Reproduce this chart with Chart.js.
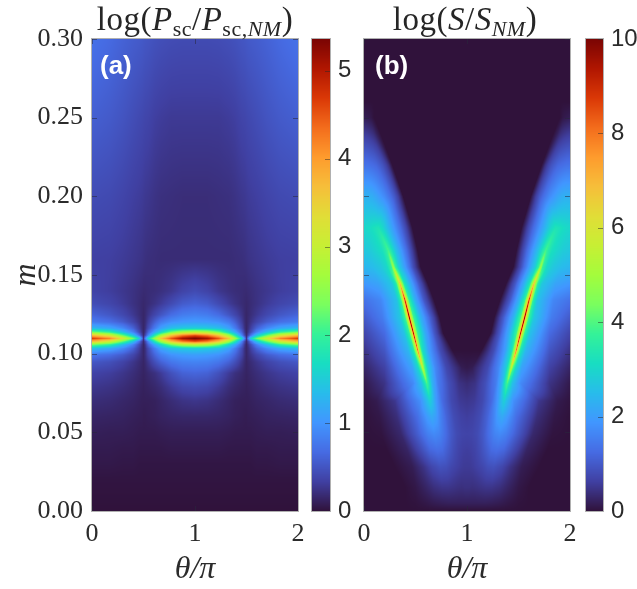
<!DOCTYPE html>
<html>
<head>
<meta charset="utf-8">
<title>log P and log S maps</title>
<script src="https://cdn.jsdelivr.net/npm/chart.js@4"></script>
<style>
  html, body { margin: 0; background: #fff; }
  #page { position: relative; width: 637px; height: 589px; overflow: hidden; }
  canvas { position: absolute; top: 0; }
  .ttl { position: absolute; top: 1px; font: 33px "Liberation Serif", serif; letter-spacing: 0.5px; color: #262626; white-space: nowrap; transform: translateX(-50%); }
  .ttl sub { font-size: 22px; vertical-align: -6px; line-height: 0; }
  .tag { position: absolute; top: 50px; font: bold 26px "Liberation Sans", sans-serif; color: #fff; }
</style>
</head>
<body>
<div id="page">
  <canvas id="heatA" width="305" height="589" style="left:0"></canvas>
  <canvas id="barA" width="58" height="589" style="left:305px"></canvas>
  <canvas id="heatB" width="240" height="589" style="left:340px"></canvas>
  <canvas id="barB" width="57" height="589" style="left:580px"></canvas>
  <div class="ttl" style="left:195px">log(<i>P</i><sub>sc</sub>/<i>P</i><sub>sc,<i>NM</i></sub>)</div>
  <div class="ttl" style="left:465px">log(<i>S</i>/<i>S</i><sub><i>NM</i></sub>)</div>
  <div class="tag" style="left:100px">(a)</div>
  <div class="tag" style="left:375px">(b)</div>
</div>
<script>
// ticks
const mTicks = [0, 0.05, 0.10, 0.15, 0.20, 0.25, 0.30];
const thetaTicks = [0, 1, 2];
const barTicksA = [0, 1, 2, 3, 4, 5];
const barTicksB = [0, 2, 4, 6, 8, 10];
const maxA = 5.36;
const maxB = 10;

// panel (a), values read for theta 0..1, right half is the mirror image
const thetaA = [0, .17, .3, .4, .46, .485, .5, .515, .545, .61, .67, .77, .88, 1];
const mA = [.30, .25, .20, .16, .1397, .1317, .1247, .1202, .1162, .1137, .1117, .1097, .1077, .1057, .1032, .0992, .0947, .0877, .0787, .07, .06, .05, .04, .03, .02, 0];
const valuesA = [
  [.72, .66, .6, .56, .54, .53, .52, .51, .5, .47, .45, .43, .42, .42],
  [.58, .54, .49, .44, .41, .40, .39, .38, .37, .33, .31, .29, .29, .29],
  [.43, .41, .37, .33, .31, .30, .29, .28, .27, .24, .22, .21, .2, .2],
  [.34, .33, .3, .27, .25, .24, .23, .22, .21, .2, .19, .19, .19, .19],
  [.36, .32, .27, .23, .2, .19, .18, .18, .19, .2, .22, .27, .36, .42],
  [.44, .38, .3, .23, .19, .17, .16, .17, .19, .24, .3, .42, .55, .6],
  [.62, .52, .4, .28, .2, .17, .15, .17, .25, .38, .5, .68, .8, .84],
  [.8, .7, .55, .37, .24, .18, .15, .18, .32, .58, .78, .95, 1.02, 1.05],
  [1.3, 1.15, .9, .6, .32, .2, .15, .2, .42, .8, 1.1, 1.35, 1.45, 1.5],
  [2.3, 1.95, 1.35, .85, .42, .24, .15, .24, .6, 1.15, 1.6, 2.3, 2.75, 2.9],
  [3.7, 3.1, 2.2, 1.4, .7, .35, .18, .35, .85, 1.8, 2.6, 3.6, 4.2, 4.5],
  [4.7, 4.2, 3.2, 2.3, 1.5, .8, .25, .8, 1.6, 2.6, 3.6, 4.5, 5.1, 5.36],
  [3.7, 3.1, 2.2, 1.4, .7, .35, .18, .35, .85, 1.8, 2.6, 3.6, 4.2, 4.5],
  [2.3, 1.95, 1.35, .85, .42, .24, .15, .24, .6, 1.15, 1.6, 2.3, 2.75, 2.9],
  [1.3, 1.15, .9, .6, .32, .2, .15, .2, .42, .8, 1.1, 1.35, 1.45, 1.5],
  [.75, .68, .55, .38, .25, .19, .15, .2, .36, .62, .82, .98, 1.05, 1.08],
  [.52, .46, .36, .26, .19, .16, .14, .17, .26, .45, .6, .76, .84, .86],
  [.36, .32, .26, .2, .16, .14, .13, .14, .17, .22, .3, .47, .6, .63],
  [.27, .24, .2, .16, .13, .12, .11, .12, .13, .16, .2, .3, .39, .42],
  [.2, .18, .15, .13, .11, .1, .1, .1, .1, .11, .14, .19, .24, .26],
  [.14, .13, .12, .1, .09, .09, .08, .08, .09, .1, .12, .14, .15, .15],
  [.1, .09, .09, .08, .07, .07, .07, .07, .07, .07, .08, .09, .09, .09],
  [.07, .07, .06, .06, .05, .05, .05, .05, .05, .05, .05, .06, .06, .06],
  [.05, .05, .04, .04, .03, .03, .03, .03, .03, .03, .03, .03, .03, .03],
  [.02, .02, .02, .02, .02, .02, .02, .02, .02, .02, .02, .02, .02, .02],
  [0, 0, 0, 0, 0, 0, 0, 0, 0, 0, 0, 0, 0, 0]
];

// panel (b), the ridge runs diagonally so each row has its own theta knots (index 5 = ridge)
const mB = [.30, .26, .25, .24, .22, .20, .18, .1655, .155, .1445, .134, .123, .113, .102, .091, .081, .07, .06, .049, .039, .028, .015, .005, 0];
const thetaB = [
  [0, .01, .02, .03, .04, .05, .06, .07, .08, .09, .1, 1],
  [0, .01, .02, .03, .04, .05, .06, .07, .08, .09, .1, 1],
  [0, .01, .02, .03, .04, .05, .06, .07, .08, .09, .1, 1],
  [0, .015, .03, .045, .06, .075, .09, .105, .12, .14, .16, 1],
  [0, .03, .06, .09, .12, .15, .18, .21, .24, .26, .275, 1],
  [0, .04, .08, .12, .16, .2, .25, .3, .34, .365, .38, 1],
  [0, .03, .06, .09, .11, .14, .18, .24, .31, .4, .47, 1],
  [0, .07, .13, .18, .21, .237, .265, .31, .38, .46, .52, 1],
  [0, .08, .16, .22, .265, .285, .305, .34, .41, .48, .55, 1],
  [0, .14, .27, .31, .335, .35, .365, .39, .44, .53, .62, 1],
  [0, .16, .318, .358, .383, .398, .413, .438, .49, .58, .68, 1],
  [0, .18, .35, .4, .427, .44, .453, .48, .545, .64, .735, 1],
  [0, .2, .39, .44, .467, .48, .493, .52, .59, .68, .77, 1],
  [0, .2, .43, .482, .508, .522, .536, .565, .63, .74, .86, 1],
  [0, .2, .47, .525, .555, .57, .586, .62, .69, .8, .95, 1],
  [0, .2, .48, .56, .595, .61, .63, .66, .72, .82, .92, 1],
  [0, .12, .3, .55, .62, .64, .66, .7, .76, .85, .93, 1],
  [0, .15, .32, .52, .62, .66, .7, .74, .8, .87, .94, 1],
  [0, .17, .36, .52, .62, .68, .73, .78, .84, .9, .95, 1],
  [0, .22, .42, .55, .64, .71, .76, .81, .87, .92, .96, 1],
  [0, .3, .47, .58, .66, .74, .8, .85, .9, .94, .97, 1],
  [0, .4, .5, .6, .68, .76, .82, .87, .91, .95, .98, 1],
  [0, .4, .5, .6, .68, .76, .82, .87, .91, .95, .98, 1],
  [0, .4, .5, .6, .68, .76, .82, .87, .91, .95, .98, 1]
];
const valuesB = [
  [0, 0, 0, 0, 0, 0, 0, 0, 0, 0, 0, 0],
  [0, 0, 0, 0, 0, 0, 0, 0, 0, 0, 0, 0],
  [.15, .15, .14, .13, .12, .11, .1, .08, .05, .02, 0, 0],
  [.55, .55, .53, .5, .47, .43, .38, .3, .2, .1, 0, 0],
  [1.35, 1.35, 1.3, 1.25, 1.18, 1.05, .9, .68, .42, .15, 0, 0],
  [2.3, 2.3, 2.25, 2.1, 1.9, 1.7, 1.35, .95, .52, .2, 0, 0],
  [3.0, 3.05, 3.1, 3.2, 3.25, 3.3, 3.05, 2.4, 1.7, .8, 0, 0],
  [2.7, 2.8, 3.0, 3.2, 3.5, 3.9, 3.4, 2.6, 1.7, .7, 0, 0],
  [2.4, 2.5, 2.7, 3.0, 3.7, 4.9, 3.8, 2.8, 1.8, .8, 0, 0],
  [1.9, 2.1, 2.7, 3.4, 5.0, 6.8, 5.0, 3.4, 2.4, 1.0, 0, 0],
  [1.35, 1.65, 2.6, 3.6, 5.8, 9.0, 5.8, 3.7, 2.4, 1.0, 0, 0],
  [1.0, 1.5, 2.7, 3.8, 6, 10, 6, 3.9, 2.4, 1.1, 0, 0],
  [.7, 1.25, 2.6, 3.7, 5.8, 9.5, 5.8, 3.8, 2.3, 1.0, 0, 0],
  [.45, .95, 2.4, 3.4, 5.2, 8, 5.2, 3.3, 2.0, .8, 0, 0],
  [.25, .65, 2.1, 3.0, 4.1, 5.4, 4.1, 2.8, 1.7, .75, .15, .1],
  [.1, .45, 1.7, 2.6, 3.4, 3.9, 3.4, 2.4, 1.5, .85, .45, .35],
  [.03, .12, .5, 1.8, 2.6, 2.85, 2.6, 1.95, 1.25, .75, .55, .5],
  [0, .08, .38, 1.3, 2.0, 2.2, 2.0, 1.6, 1.15, .8, .65, .6],
  [0, .03, .3, 1.05, 1.55, 1.7, 1.6, 1.35, 1.0, .78, .7, .68],
  [0, 0, .25, .8, 1.2, 1.3, 1.25, 1.05, .82, .68, .62, .6],
  [0, 0, .15, .45, .72, .88, .84, .72, .64, .58, .55, .55],
  [0, 0, .08, .25, .4, .48, .48, .45, .42, .4, .42, .42],
  [0, 0, .02, .08, .14, .18, .2, .2, .2, .2, .2, .2],
  [0, 0, 0, 0, 0, 0, 0, 0, 0, 0, 0, 0]
];

// turbo colormap stops, every 16 levels of 256
const turboStops = [
  [48, 18, 59], [64, 64, 162], [70, 107, 227], [65, 150, 255], [40, 188, 235], [24, 221, 194],
  [52, 242, 152], [122, 254, 94], [164, 252, 60], [199, 239, 52], [225, 221, 55], [246, 190, 58],
  [254, 155, 45], [243, 108, 28], [218, 56, 6], [176, 22, 1], [122, 4, 3]
];

function turbo(t) {
  t = Math.min(1, Math.max(0, t));
  const p = t * (turboStops.length - 1);
  const i = Math.min(turboStops.length - 2, Math.floor(p));
  const f = p - i;
  return turboStops[i].map((c, k) => c + (turboStops[i + 1][k] - c) * f);
}

// value at (theta, m): knots move between rows, so ridges stay continuous along diagonals
function sampleField(thetaRows, valueRows, mRows, th, m) {
  if (th > 1) th = 2 - th;
  let i = 0;
  while (i < mRows.length - 2 && m < mRows[i + 1]) i++;
  const f = (mRows[i] - m) / (mRows[i] - mRows[i + 1]);
  const t0 = thetaRows[i], t1 = thetaRows[i + 1];
  const v0 = valueRows[i], v1 = valueRows[i + 1];
  let prevT = 0, prevV = v0[0] + (v1[0] - v0[0]) * f;
  for (let k = 1; k < t0.length; k++) {
    const kt = t0[k] + (t1[k] - t0[k]) * f;
    const kv = v0[k] + (v1[k] - v0[k]) * f;
    if (th <= kt) return prevV + (kv - prevV) * (th - prevT) / Math.max(kt - prevT, 1e-6);
    prevT = kt;
    prevV = kv;
  }
  return prevV;
}

function paintArea(chart, valueAt) {
  const { ctx, chartArea: a, scales } = chart;
  const w = Math.round(a.right - a.left), h = Math.round(a.bottom - a.top);
  const img = ctx.createImageData(w, h);
  for (let py = 0; py < h; py++) {
    const yVal = scales.y.getValueForPixel(a.top + py + 0.5);
    for (let px = 0; px < w; px++) {
      const xVal = scales.x.getValueForPixel(a.left + px + 0.5);
      const c = turbo(valueAt(xVal, yVal));
      const o = (py * w + px) * 4;
      img.data[o] = c[0]; img.data[o + 1] = c[1]; img.data[o + 2] = c[2]; img.data[o + 3] = 255;
    }
  }
  ctx.putImageData(img, Math.round(a.left), Math.round(a.top));
}

function frame(chart) {
  const { ctx, chartArea: a } = chart;
  ctx.strokeStyle = '#b0b0b0';
  ctx.lineWidth = 1;
  ctx.strokeRect(a.left - 0.5, a.top - 0.5, a.right - a.left + 1, a.bottom - a.top + 1);
}

function tickMark(ctx, x0, y0, x1, y1) {
  ctx.beginPath();
  ctx.moveTo(x0, y0);
  ctx.lineTo(x1, y1);
  ctx.stroke();
}

// inward ticks on all four sides, like the box of the original
const boxTicks = {
  id: 'boxTicks',
  afterDraw(chart) {
    const { ctx, chartArea: a, scales } = chart;
    ctx.save();
    ctx.strokeStyle = 'rgba(40,40,60,0.55)';
    ctx.lineWidth = 1;
    scales.y.ticks.forEach(t => {
      const py = Math.round(scales.y.getPixelForValue(t.value)) + 0.5;
      tickMark(ctx, a.left, py, a.left + 5, py);
      tickMark(ctx, a.right, py, a.right - 5, py);
    });
    scales.x.ticks.forEach(t => {
      const px = Math.round(scales.x.getPixelForValue(t.value)) + 0.5;
      tickMark(ctx, px, a.top, px, a.top + 5);
      tickMark(ctx, px, a.bottom, px, a.bottom - 5);
    });
    frame(chart);
    ctx.restore();
  }
};

function makeHeat(id, thetaRows, valueRows, mRows, maxVal, leftW, rightPad, showM) {
  const nodes = [];
  mRows.forEach((m, r) => thetaRows[r].forEach((th, k) => nodes.push({ x: th, y: m, v: valueRows[r][k] })));
  new Chart(document.getElementById(id), {
    type: 'scatter',
    data: { datasets: [{ data: nodes, pointRadius: 0 }] },
    options: {
      responsive: false,
      animation: false,
      layout: { padding: { top: 39, right: rightPad } },
      plugins: { legend: { display: false }, tooltip: { enabled: false } },
      scales: {
        x: {
          type: 'linear', min: 0, max: 2,
          afterBuildTicks: s => { s.ticks = thetaTicks.map(v => ({ value: v })); },
          afterFit: s => { s.height = 78; },
          grid: { display: false },
          border: { display: false },
          ticks: { padding: 0, color: '#2b2b2b', maxRotation: 0, font: { family: 'Liberation Serif', size: 26 } },
          title: { display: true, text: 'θ/π', color: '#2b2b2b', padding: { top: 0, bottom: 0 }, font: { family: 'Liberation Serif', size: 32, style: 'italic', weight: 'normal' } }
        },
        y: {
          type: 'linear', min: 0, max: 0.3,
          afterBuildTicks: s => { s.ticks = mTicks.map(v => ({ value: v })); },
          afterFit: s => { s.width = leftW; },
          grid: { display: false },
          border: { display: false },
          ticks: { display: showM, padding: 1, color: '#2b2b2b', callback: v => v.toFixed(2), font: { family: 'Liberation Serif', size: 26 } },
          title: { display: showM, text: 'm', color: '#2b2b2b', padding: { top: 7, bottom: 0 }, font: { family: 'Liberation Serif', size: 32, style: 'italic', weight: 'normal' } }
        }
      }
    },
    plugins: [{
      id: 'heat',
      beforeDatasetsDraw(chart) {
        paintArea(chart, (th, m) => sampleField(thetaRows, valueRows, mRows, th, m) / maxVal);
      }
    }, boxTicks]
  });
}

function makeBar(id, tickVals, maxVal, leftPad, barW, canvasW) {
  new Chart(document.getElementById(id), {
    type: 'scatter',
    data: { datasets: [{ data: tickVals.map(v => ({ x: 0, y: v })), pointRadius: 0 }] },
    options: {
      responsive: false,
      animation: false,
      layout: { padding: { top: 39, left: leftPad, bottom: 78 } },
      plugins: { legend: { display: false }, tooltip: { enabled: false } },
      scales: {
        x: { type: 'linear', min: 0, max: 1, display: false },
        y: {
          type: 'linear', position: 'right', min: 0, max: maxVal,
          afterBuildTicks: s => { s.ticks = tickVals.map(v => ({ value: v })); },
          afterFit: s => { s.width = canvasW - leftPad - barW; },
          grid: { display: false },
          border: { display: false },
          ticks: { padding: 0, color: '#2b2b2b', font: { family: 'Liberation Sans', size: 24 } }
        }
      }
    },
    plugins: [{
      id: 'bar',
      beforeDatasetsDraw(chart) {
        paintArea(chart, (x, v) => v / maxVal);
      },
      afterDraw(chart) {
        const { ctx, chartArea: a, scales } = chart;
        ctx.save();
        ctx.strokeStyle = 'rgba(40,40,40,0.5)';
        ctx.lineWidth = 1;
        tickVals.forEach(v => {
          const py = Math.round(scales.y.getPixelForValue(v)) + 0.5;
          tickMark(ctx, a.right, py, a.right - 5, py);
        });
        frame(chart);
        ctx.restore();
      }
    }]
  });
}

makeHeat('heatA', mA.map(() => thetaA), valuesA, mA, maxA, 92, 7, true);
makeHeat('heatB', thetaB, valuesB, mB, maxB, 24, 10, false);
makeBar('barA', barTicksA, maxA, 7, 18, 58);
makeBar('barB', barTicksB, maxB, 6, 17, 57);
</script>
</body>
</html>
